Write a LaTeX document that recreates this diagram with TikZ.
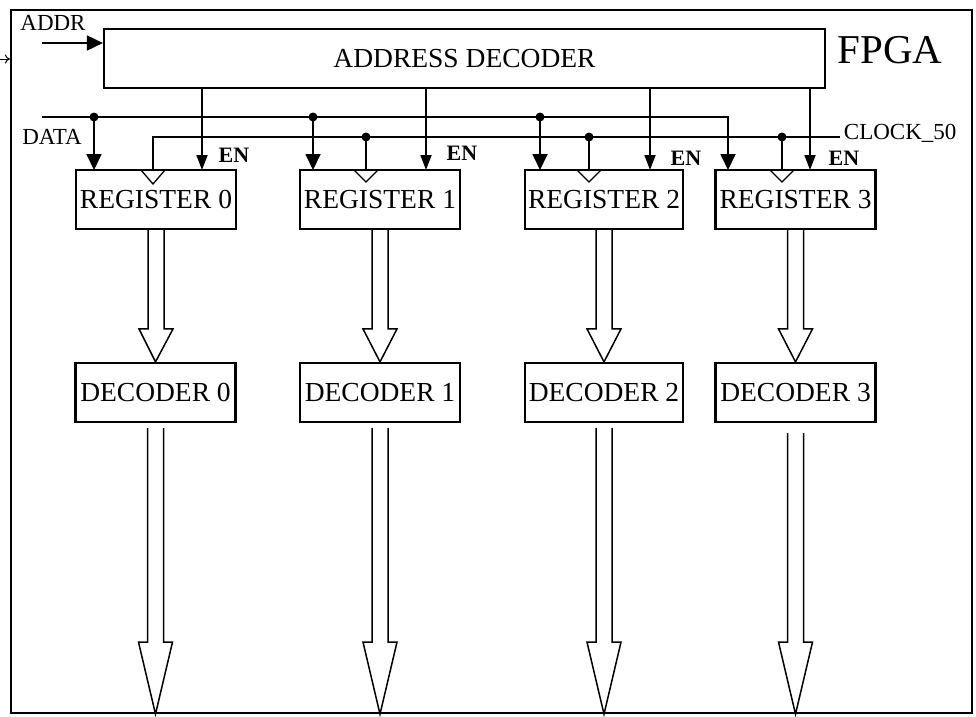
\documentclass[tikz,border=0pt]{standalone}
\usepackage{fontspec}
\setmainfont{Liberation Serif}
\usetikzlibrary{arrows.meta,calc}

\tikzset{
    box/.style={draw, line width=2.2pt, minimum width=160pt, minimum height=59pt,
                inner sep=0pt, font=\fontsize{27.5}{27.5}\selectfont},
    sig/.style={font=\fontsize{23}{23}\selectfont, inner sep=0pt},
    enlbl/.style={font=\bfseries\fontsize{22}{22}\selectfont, inner sep=0pt},
    enarrow/.style={-{Triangle[length=15pt,width=11pt]}},
    fatarrow/.style={line width=1.5pt, to path={let \p1=(\tikztostart), \p2=(\tikztotarget) in
        (\x1-8pt,\y1) -- (\x1-8pt,\y2+#1) -- (\x1-17pt,\y2+#1) -- (\x2,\y2)
        -- (\x1+17pt,\y2+#1) -- (\x1+8pt,\y2+#1) -- (\x1+8pt,\y1)}}
}

\begin{document}
\begin{tikzpicture}[x=1pt,y=-1pt,line width=1.8pt,
                    >={Triangle[length=16pt,width=15pt]}]
\useasboundingbox (0,0) rectangle (976,716);

\begin{scope}
    \node[draw, line width=2.2pt, minimum width=961pt, minimum height=703pt] (fpga) at (491.5,361.5) {};
    \node[box, minimum width=721pt] (AD) at (464.5,58.5) {ADDRESS DECODER};
    \node[box] (R0) at (156,199.5) {REGISTER 0};
    \node[box] (R1) at (380,199.5) {REGISTER 1};
    \node[box, minimum width=158pt] (R2) at (604,199.5) {REGISTER 2};
    \node[box] (R3) at (795.5,199.5) {REGISTER 3};
    \node[box] (D0) at (155.5,392.5) {DECODER 0};
    \node[box] (D1) at (380,392.5) {DECODER 1};
    \node[box, minimum width=158pt] (D2) at (604,392.5) {DECODER 2};
    \node[box] (D3) at (795.5,392.5) {DECODER 3};
\end{scope}

% labels
\node[font=\fontsize{41}{41}\selectfont] (fpgalbl) at (890,50) {FPGA};
\node[sig] (addr) at (53,23) {ADDR};
\node[sig] (data) at (52,137) {DATA};
\node[sig, anchor=west] (clk) at (843,133) {CLOCK\_50};
\node[enlbl] (en0) at (234,155) {EN};
\node[enlbl] (en1) at (462,153) {EN};
\node[enlbl] (en2) at (686,158) {EN};
\node[enlbl] (en3) at (844,158) {EN};

% points on the buses
\coordinate (ext) at (0,59);
\coordinate (addrin) at (42,43);
\coordinate (datain) at (42,117);
\coordinate (clkin) at (840,137);
\coordinate (T0) at (94,170);
\coordinate (T1) at (313,170);
\coordinate (T2) at (540,170);
\coordinate (T3) at (728,170);
\coordinate (C0) at (153,170);
\coordinate (C1) at (366,170);
\coordinate (C2) at (589,170);
\coordinate (C3) at (782,170);
\coordinate (E0) at (202,170);
\coordinate (E1) at (426,170);
\coordinate (E2) at (650,170);
\coordinate (E3) at (810,170);

% ADDR
\draw[-{To[length=5pt,width=9pt]}, line width=1pt] (ext) -- (ext -| fpga.west);
\draw[->] (addrin) -- (addrin -| AD.west);

% DATA
\draw[->] (datain) -| (T3);
\draw[->] (datain -| T0) -- (T0);
\draw[->] (datain -| T1) -- (T1);
\draw[->] (datain -| T2) -- (T2);
\fill (datain -| T0) circle[radius=4.5pt];
\fill (datain -| T1) circle[radius=4.5pt];
\fill (datain -| T2) circle[radius=4.5pt];

% CLOCK_50
\draw (clkin) -| (C0);
\draw (clkin -| C1) -- (C1);
\draw (clkin -| C2) -- (C2);
\draw (clkin -| C3) -- (C3);
\fill (clkin -| C1) circle[radius=4.5pt];
\fill (clkin -| C2) circle[radius=4.5pt];
\fill (clkin -| C3) circle[radius=4.5pt];
\draw[line width=1.3pt] ([xshift=-12pt]C0) -- ([yshift=-14pt]C0) -- ([xshift=12pt]C0);
\draw[line width=1.3pt] ([xshift=-12pt]C1) -- ([yshift=-12pt]C1) -- ([xshift=12pt]C1);
\draw[line width=1.3pt] ([xshift=-12pt]C2) -- ([yshift=-12pt]C2) -- ([xshift=12pt]C2);
\draw[line width=1.3pt] ([xshift=-12pt]C3) -- ([yshift=-12pt]C3) -- ([xshift=12pt]C3);

% EN
\draw[enarrow] (AD.south -| E0) -- (E0);
\draw[enarrow] (AD.south -| E1) -- (E1);
\draw[enarrow] (AD.south -| E2) -- (E2);
\draw[enarrow] (AD.south -| E3) -- (E3);

% register -> decoder
\draw[fatarrow=33pt] (R0.south) to (D0.north);
\draw[fatarrow=33pt] (R1.south) to (D1.north);
\draw[fatarrow=33pt] (R2.south) to (D2.north);
\draw[fatarrow=33pt] (R3.south) to (D3.north);

% decoder -> out
\draw[fatarrow=72pt] ([yshift=-5pt]D0.south) to (D0.south |- fpga.south);
\draw[fatarrow=72pt] ([yshift=-5pt]D1.south) to (D1.south |- fpga.south);
\draw[fatarrow=72pt] ([yshift=-5pt]D2.south) to (D2.south |- fpga.south);
\draw[fatarrow=72pt] ([yshift=-10pt]D3.south) to (D3.south |- fpga.south);
\end{tikzpicture}
\end{document}
